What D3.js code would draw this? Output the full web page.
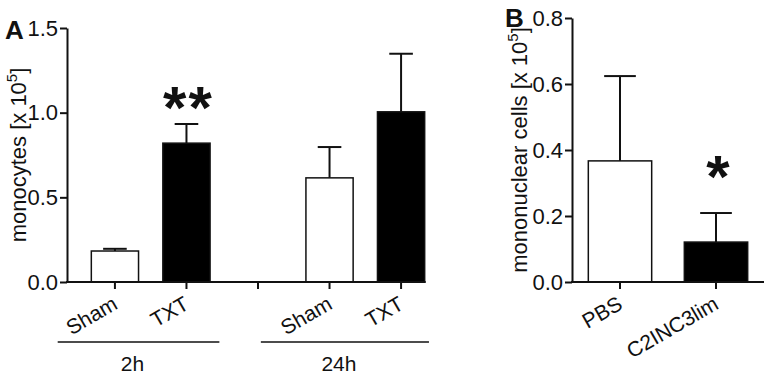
<!DOCTYPE html>
<html>
<head>
<meta charset="utf-8">
<script src="https://cdn.jsdelivr.net/npm/d3@7"></script>
<style>
  body { margin: 0; background: #fff; }
  svg { display: block; }
  text { font-family: "Liberation Sans", Arial, sans-serif; fill: #111; }
</style>
</head>
<body>
<svg id="chart" width="767" height="378"></svg>
<script>
// panel A data
let a_slots = ["Sham 2h", "TXT 2h", "gap", "Sham 24h", "TXT 24h"]
let a_labels = ["Sham", "TXT", "", "Sham", "TXT"]
let a_means = [0.183, 0.82, null, 0.615, 1.005]
let a_sem = [0.013, 0.113, null, 0.182, 0.343]
let a_fill = ["white", "black", null, "white", "black"]
let a_ticks = [0, 0.5, 1.0, 1.5]
let a_stars = [null, "**", null, null, null]
let a_star_level = [null, 1.05, null, null, null]
let a_groups = ["2h", "24h"]
let a_group_slots = [["Sham 2h", "TXT 2h"], ["gap", "TXT 24h"]]

// panel B data
let b_slots = ["PBS", "C2INC3lim"]
let b_labels = ["PBS", "C2INC3lim"]
let b_means = [0.367, 0.121]
let b_sem = [0.257, 0.088]
let b_fill = ["white", "black"]
let b_ticks = [0, 0.2, 0.4, 0.6, 0.8]
let b_stars = [null, "*"]
let b_star_level = [null, 0.33]

let svg = d3.select("#chart")
let ink = "#111"
let font = "Liberation Sans, Arial, sans-serif"

function bar_panel(p) {
  let g = svg.append("g")
  let y = d3.scaleLinear().domain([0, p.ymax]).range([282, p.ytop])
  let x = d3.scaleBand().domain(p.slots).range(p.xrange)
    .paddingInner(0.34).paddingOuter(p.outer)

  let rows = p.slots.map((s, i) => ({
    slot: s, label: p.labels[i], mean: p.means[i], sem: p.sem[i],
    fill: p.fill[i], star: p.stars[i], star_level: p.star_level[i]
  }))
  let bars = rows.filter(d => d.mean != null)
  let mid = d => x(d.slot) + x.bandwidth() / 2

  // error bars (upper only)
  g.selectAll(".err").data(bars).enter().append("line")
    .attr("x1", mid).attr("x2", mid)
    .attr("y1", d => y(d.mean))
    .attr("y2", d => y(d.mean + d.sem))
    .attr("stroke", ink).attr("stroke-width", 2)
  g.selectAll(".cap").data(bars).enter().append("line")
    .attr("x1", d => x(d.slot) + x.bandwidth() / 4)
    .attr("x2", d => x(d.slot) + x.bandwidth() * 3 / 4)
    .attr("y1", d => y(d.mean + d.sem))
    .attr("y2", d => y(d.mean + d.sem))
    .attr("stroke", ink).attr("stroke-width", 2)

  g.selectAll("rect").data(bars).enter().append("rect")
    .attr("x", d => x(d.slot))
    .attr("width", x.bandwidth())
    .attr("y", d => y(d.mean))
    .attr("height", d => y(0) - y(d.mean))
    .attr("fill", d => d.fill)
    .attr("stroke", ink).attr("stroke-width", 1.5)

  // y axis
  let x0 = p.xrange[0]
  let ya = g.append("g").attr("transform", `translate(${x0},0)`)
    .call(d3.axisLeft(y).tickValues(p.ticks).tickFormat(d3.format(".1f"))
      .tickSize(7).tickSizeOuter(0).tickPadding(2))
  ya.select(".domain").attr("stroke", ink).attr("stroke-width", 2)
  ya.selectAll(".tick line").attr("stroke", ink).attr("stroke-width", 2)
  ya.selectAll(".tick text").attr("font-size", 22).attr("fill", ink)
    .attr("font-family", font)

  // x axis
  let xa = g.append("g").attr("transform", `translate(0,${y(0)})`)
    .call(d3.axisBottom(x).tickSize(7).tickSizeOuter(0).tickFormat((d, i) => p.labels[i]))
  xa.select(".domain").remove()
  xa.selectAll(".tick line").attr("stroke", ink).attr("stroke-width", 2)
  xa.selectAll(".tick text")
    .attr("font-size", 21).attr("fill", ink)
    .attr("font-family", font)
    .attr("y", 0).attr("dy", 0)
    .attr("transform", "translate(4,26) rotate(-30)")
    .style("text-anchor", "end")
  g.append("line")
    .attr("x1", x0 - 1).attr("x2", p.xend(x))
    .attr("y1", y(0)).attr("y2", y(0))
    .attr("stroke", ink).attr("stroke-width", 2)

  // significance stars
  g.selectAll(".star").data(rows.filter(d => d.star)).enter().append("text")
    .attr("x", d => mid(d) + 2)
    .attr("y", d => y(d.star_level) + p.star_size * 0.4)
    .attr("text-anchor", "middle")
    .attr("font-size", p.star_size).attr("font-weight", "bold")
    .attr("letter-spacing", p.star_spacing)
    .text(d => d.star)

  // y title
  let t = g.append("text")
    .attr("transform", `translate(${p.title_x},${(y(0) + y(p.ymax)) / 2}) rotate(-90)`)
    .attr("text-anchor", "middle").attr("font-size", 22)
  t.append("tspan").text(p.title + " [x 10")
  t.append("tspan").attr("dy", -9).attr("font-size", 15).text("5")
  t.append("tspan").attr("dy", 9).text("]")

  g.append("text").attr("x", p.letter[0]).attr("y", p.letter[1])
    .attr("font-size", 26).attr("font-weight", "bold").text(p.letter[2])

  return {x: x, y: y, g: g}
}

let A = bar_panel({
  slots: a_slots, labels: a_labels, means: a_means, sem: a_sem, fill: a_fill,
  ticks: a_ticks, stars: a_stars, star_level: a_star_level,
  ymax: 1.5, ytop: 28, xrange: [67, 449], outer: 0.34,
  xend: x => x("TXT 24h") + x.bandwidth() + 1,
  star_size: 60, star_spacing: 2,
  title: "monocytes", title_x: 26, letter: [5, 39, "A"]
})

// group brackets under panel A
let step = A.x.step()
let group_ext = [[-0.8, 0.46], [0.04, 0.39]]
a_groups.forEach((name, i) => {
  let s = a_group_slots[i]
  let x1 = A.x(s[0]) + A.x.bandwidth() / 2 + group_ext[i][0] * step
  let x2 = A.x(s[1]) + A.x.bandwidth() / 2 + group_ext[i][1] * step
  A.g.append("line").attr("x1", x1).attr("x2", x2).attr("y1", 342).attr("y2", 342)
    .attr("stroke", ink).attr("stroke-width", 1.5)
  A.g.append("text").attr("x", (x1 + x2) / 2 - 6).attr("y", 371)
    .attr("text-anchor", "middle").attr("font-size", 21).text(name)
})

bar_panel({
  slots: b_slots, labels: b_labels, means: b_means, sem: b_sem, fill: b_fill,
  ticks: b_ticks, stars: b_stars, star_level: b_star_level,
  ymax: 0.8, ytop: 18, xrange: [572, 764], outer: 0.17,
  xend: x => 764,
  star_size: 60, star_spacing: 0,
  title: "mononuclear cells", title_x: 527, letter: [505, 27, "B"]
})
</script>
</body>
</html>
